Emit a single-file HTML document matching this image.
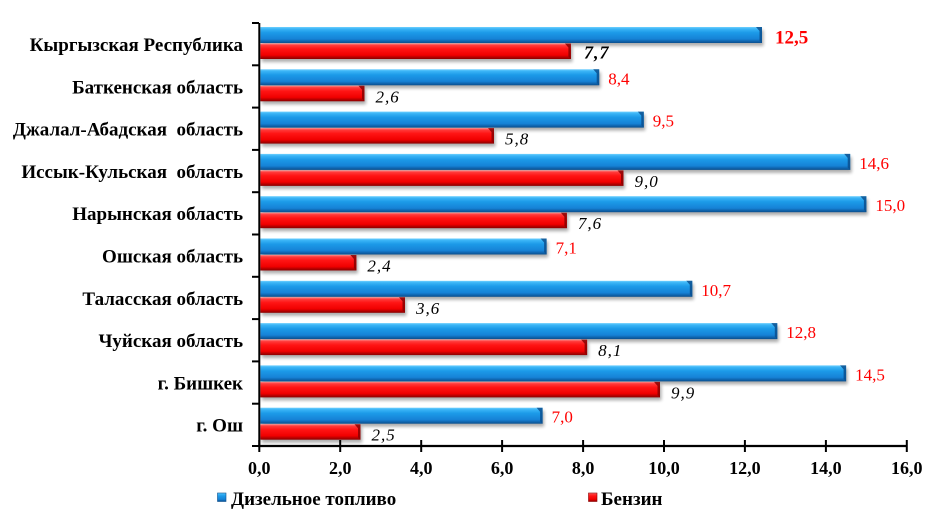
<!DOCTYPE html>
<html>
<head>
<meta charset="utf-8">
<style>
html,body{margin:0;padding:0;background:#fff;}
svg{display:block;}
text{font-family:"Liberation Serif","DejaVu Serif",serif;}
.cat{font-weight:bold;font-size:19px;fill:#000;}
.tick{font-weight:bold;font-size:18px;fill:#000;}
.vb{font-size:17px;fill:#ff0000;}
.vr{font-size:17px;font-style:italic;fill:#000;letter-spacing:1px;}
.leg{font-weight:bold;font-size:19px;fill:#000;}
.s{fill:#000;opacity:0.32;filter:url(#sh);}
</style>
</head>
<body>
<svg width="946" height="521" viewBox="0 0 946 521" xmlns="http://www.w3.org/2000/svg" xmlns:xlink="http://www.w3.org/1999/xlink">
<defs>
<linearGradient id="gb" x1="0" y1="0" x2="0" y2="1">
<stop offset="0" stop-color="#6fd0ff"/>
<stop offset="0.12" stop-color="#3ab4f6"/>
<stop offset="0.35" stop-color="#1c9ae8"/>
<stop offset="0.75" stop-color="#1682d6"/>
<stop offset="0.88" stop-color="#0f66b0"/>
<stop offset="1" stop-color="#0a4f8e"/>
</linearGradient>
<linearGradient id="gr" x1="0" y1="0" x2="0" y2="1">
<stop offset="0" stop-color="#ff8a8a"/>
<stop offset="0.12" stop-color="#ff3a3a"/>
<stop offset="0.35" stop-color="#ff1414"/>
<stop offset="0.75" stop-color="#f00000"/>
<stop offset="0.88" stop-color="#b80000"/>
<stop offset="1" stop-color="#8a0000"/>
</linearGradient>
<filter id="sh" x="-5%" y="-50%" width="110%" height="200%">
<feGaussianBlur stdDeviation="1.6"/>
</filter>
<polygon id="bevB" points="-6,0 0,0 0,16 -2.5,13.5 -2.5,4" fill="#0a4f8e" opacity="0.85"/>
<polygon id="bevR" points="-6,0 0,0 0,15.5 -2.5,13 -2.5,4" fill="#8a0000" opacity="0.85"/>
</defs>

<!-- shadows -->
<rect class="s" x="261.8" y="30" width="501.7" height="16"/>
<rect class="s" x="261.8" y="46.5" width="310.6" height="15.5"/>
<rect class="s" x="261.8" y="72.3" width="338.9" height="16"/>
<rect class="s" x="261.8" y="88.8" width="104.2" height="15.5"/>
<rect class="s" x="261.8" y="114.6" width="383.5" height="16"/>
<rect class="s" x="261.8" y="131.1" width="233.7" height="15.5"/>
<rect class="s" x="261.8" y="156.9" width="589.9" height="16"/>
<rect class="s" x="261.8" y="173.4" width="363.2" height="15.5"/>
<rect class="s" x="261.8" y="199.2" width="606.1" height="16"/>
<rect class="s" x="261.8" y="215.7" width="306.6" height="15.5"/>
<rect class="s" x="261.8" y="241.5" width="286.3" height="16"/>
<rect class="s" x="261.8" y="258" width="96.1" height="15.5"/>
<rect class="s" x="261.8" y="283.8" width="432" height="16"/>
<rect class="s" x="261.8" y="300.3" width="144.7" height="15.5"/>
<rect class="s" x="261.8" y="326.1" width="517" height="16"/>
<rect class="s" x="261.8" y="342.6" width="326.8" height="15.5"/>
<rect class="s" x="261.8" y="368.4" width="585.8" height="16"/>
<rect class="s" x="261.8" y="384.9" width="399.7" height="15.5"/>
<rect class="s" x="261.8" y="410.7" width="282.3" height="16"/>
<rect class="s" x="261.8" y="427.2" width="100.2" height="15.5"/>

<!-- blue bars -->
<g fill="url(#gb)">
<rect x="260.3" y="27" width="501.7" height="16"/>
<rect x="260.3" y="69.3" width="338.9" height="16"/>
<rect x="260.3" y="111.6" width="383.5" height="16"/>
<rect x="260.3" y="153.9" width="589.9" height="16"/>
<rect x="260.3" y="196.2" width="606.1" height="16"/>
<rect x="260.3" y="238.5" width="286.3" height="16"/>
<rect x="260.3" y="280.8" width="432" height="16"/>
<rect x="260.3" y="323.1" width="517" height="16"/>
<rect x="260.3" y="365.4" width="585.8" height="16"/>
<rect x="260.3" y="407.7" width="282.3" height="16"/>
</g>
<use xlink:href="#bevB" href="#bevB" x="762" y="27"/>
<use xlink:href="#bevB" href="#bevB" x="599.2" y="69.3"/>
<use xlink:href="#bevB" href="#bevB" x="643.8" y="111.6"/>
<use xlink:href="#bevB" href="#bevB" x="850.2" y="153.9"/>
<use xlink:href="#bevB" href="#bevB" x="866.4" y="196.2"/>
<use xlink:href="#bevB" href="#bevB" x="546.6" y="238.5"/>
<use xlink:href="#bevB" href="#bevB" x="692.3" y="280.8"/>
<use xlink:href="#bevB" href="#bevB" x="777.3" y="323.1"/>
<use xlink:href="#bevB" href="#bevB" x="846.1" y="365.4"/>
<use xlink:href="#bevB" href="#bevB" x="542.6" y="407.7"/>

<!-- red bars -->
<g fill="url(#gr)">
<rect x="260.3" y="43.5" width="310.6" height="15.5"/>
<rect x="260.3" y="85.8" width="104.2" height="15.5"/>
<rect x="260.3" y="128.1" width="233.7" height="15.5"/>
<rect x="260.3" y="170.4" width="363.2" height="15.5"/>
<rect x="260.3" y="212.7" width="306.6" height="15.5"/>
<rect x="260.3" y="255" width="96.1" height="15.5"/>
<rect x="260.3" y="297.3" width="144.7" height="15.5"/>
<rect x="260.3" y="339.6" width="326.8" height="15.5"/>
<rect x="260.3" y="381.9" width="399.7" height="15.5"/>
<rect x="260.3" y="424.2" width="100.2" height="15.5"/>
</g>
<use xlink:href="#bevR" href="#bevR" x="570.9" y="43.5"/>
<use xlink:href="#bevR" href="#bevR" x="364.5" y="85.8"/>
<use xlink:href="#bevR" href="#bevR" x="494" y="128.1"/>
<use xlink:href="#bevR" href="#bevR" x="623.5" y="170.4"/>
<use xlink:href="#bevR" href="#bevR" x="566.9" y="212.7"/>
<use xlink:href="#bevR" href="#bevR" x="356.4" y="255"/>
<use xlink:href="#bevR" href="#bevR" x="405" y="297.3"/>
<use xlink:href="#bevR" href="#bevR" x="587.1" y="339.6"/>
<use xlink:href="#bevR" href="#bevR" x="660" y="381.9"/>
<use xlink:href="#bevR" href="#bevR" x="360.5" y="424.2"/>

<!-- axes -->
<line x1="259.3" y1="23" x2="259.3" y2="447" stroke="#000" stroke-width="2"/>
<line x1="258.3" y1="446" x2="907.5" y2="446" stroke="#000" stroke-width="2.2"/>
<g stroke="#000" stroke-width="2">
<line x1="252" y1="23" x2="259" y2="23"/>
<line x1="252" y1="65.3" x2="259" y2="65.3"/>
<line x1="252" y1="107.6" x2="259" y2="107.6"/>
<line x1="252" y1="149.9" x2="259" y2="149.9"/>
<line x1="252" y1="192.2" x2="259" y2="192.2"/>
<line x1="252" y1="234.5" x2="259" y2="234.5"/>
<line x1="252" y1="276.8" x2="259" y2="276.8"/>
<line x1="252" y1="319.1" x2="259" y2="319.1"/>
<line x1="252" y1="361.4" x2="259" y2="361.4"/>
<line x1="252" y1="403.7" x2="259" y2="403.7"/>
<line x1="252" y1="446" x2="259" y2="446"/>
<line x1="259.3" y1="440" x2="259.3" y2="452"/>
<line x1="340.2" y1="440" x2="340.2" y2="452"/>
<line x1="421.2" y1="440" x2="421.2" y2="452"/>
<line x1="502.1" y1="440" x2="502.1" y2="452"/>
<line x1="583.1" y1="440" x2="583.1" y2="452"/>
<line x1="664" y1="440" x2="664" y2="452"/>
<line x1="744.9" y1="440" x2="744.9" y2="452"/>
<line x1="825.9" y1="440" x2="825.9" y2="452"/>
<line x1="906.8" y1="440" x2="906.8" y2="452"/>
</g>

<!-- x tick labels -->
<g text-anchor="middle">
<text x="259.3" y="474" class="tick">0,0</text>
<text x="340.2" y="474" class="tick">2,0</text>
<text x="421.2" y="474" class="tick">4,0</text>
<text x="502.1" y="474" class="tick">6,0</text>
<text x="583.1" y="474" class="tick">8,0</text>
<text x="664" y="474" class="tick">10,0</text>
<text x="744.9" y="474" class="tick">12,0</text>
<text x="825.9" y="474" class="tick">14,0</text>
<text x="906.8" y="474" class="tick">16,0</text>
</g>

<!-- category labels -->
<g text-anchor="end">
<text class="cat" x="243" y="51">Кыргызская Республика</text>
<text class="cat" x="243" y="93.3">Баткенская область</text>
<text class="cat" x="243" y="135.6">Джалал-Абадская&#160; область</text>
<text class="cat" x="243" y="177.9">Иссык-Кульская&#160; область</text>
<text class="cat" x="243" y="220.2">Нарынская область</text>
<text class="cat" x="243" y="262.5">Ошская область</text>
<text class="cat" x="243" y="304.8">Таласская область</text>
<text class="cat" x="243" y="347.1">Чуйская область</text>
<text class="cat" x="243" y="389.4">г. Бишкек</text>
<text class="cat" x="243" y="431.7">г. Ош</text>
</g>

<!-- blue value labels -->
<text class="vb" x="775" y="43.5" style="font-weight:bold;font-size:19px">12,5</text>
<text class="vb" x="608.2" y="84.3">8,4</text>
<text class="vb" x="652.8" y="126.6">9,5</text>
<text class="vb" x="859.2" y="168.9">14,6</text>
<text class="vb" x="875.4" y="211.2">15,0</text>
<text class="vb" x="555.6" y="253.5">7,1</text>
<text class="vb" x="701.3" y="295.8">10,7</text>
<text class="vb" x="786.3" y="338.1">12,8</text>
<text class="vb" x="855.1" y="380.4">14,5</text>
<text class="vb" x="551.6" y="422.7">7,0</text>

<!-- red value labels -->
<text class="vr" x="584" y="58.5" style="font-weight:bold;font-size:18px">7,7</text>
<text class="vr" x="375.5" y="102.3">2,6</text>
<text class="vr" x="505" y="144.6">5,8</text>
<text class="vr" x="634.5" y="186.9">9,0</text>
<text class="vr" x="577.9" y="229.2">7,6</text>
<text class="vr" x="367.4" y="271.5">2,4</text>
<text class="vr" x="416" y="313.8">3,6</text>
<text class="vr" x="598.1" y="356.1">8,1</text>
<text class="vr" x="671" y="398.4">9,9</text>
<text class="vr" x="371.5" y="440.7">2,5</text>

<!-- legend -->
<rect x="217.5" y="493" width="8.5" height="8.5" fill="url(#gb)" stroke="#0a4f8e" stroke-width="0.6"/>
<text class="leg" x="231" y="505">Дизельное топливо</text>
<rect x="588.5" y="493" width="8.5" height="8.5" fill="url(#gr)" stroke="#8a0000" stroke-width="0.6"/>
<text class="leg" x="601" y="505">Бензин</text>
</svg>
</body>
</html>
